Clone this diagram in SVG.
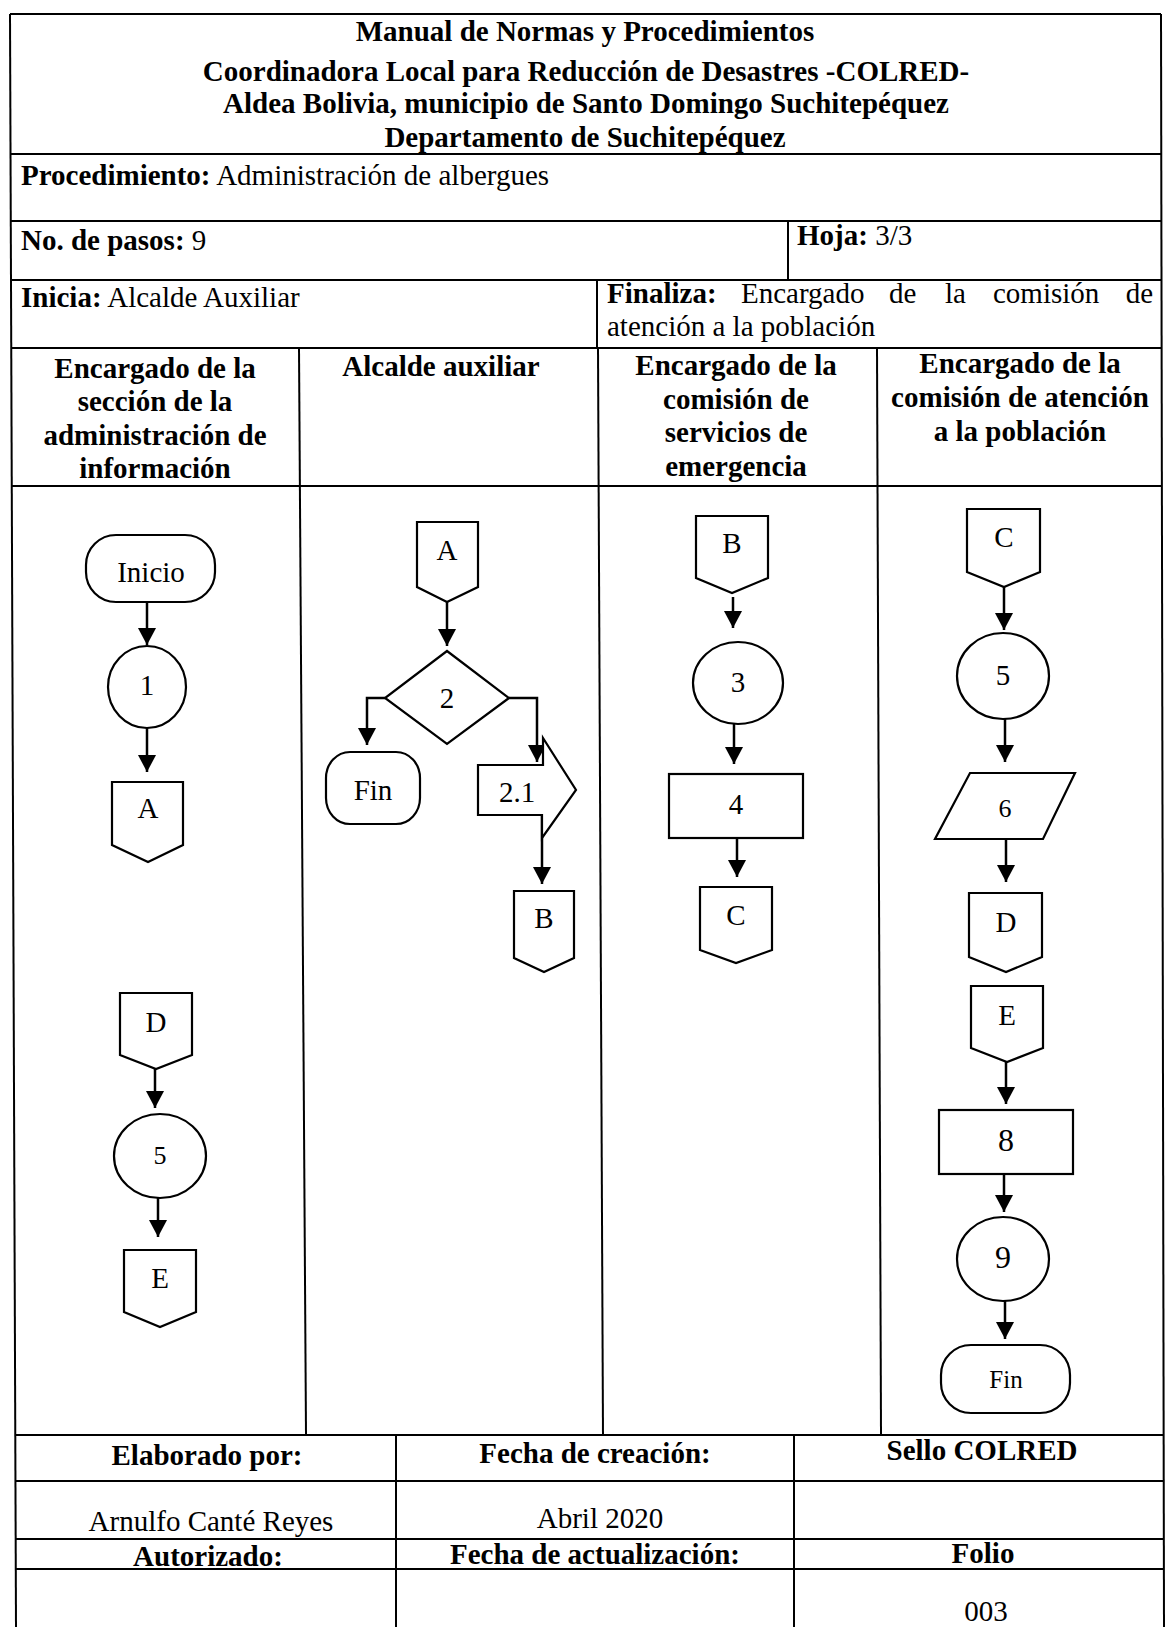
<svg xmlns="http://www.w3.org/2000/svg" width="1166" height="1627" viewBox="0 0 1166 1627">
<style>
text{font-family:"Liberation Serif","Times New Roman",serif;font-size:29px;fill:#000}
.b{font-weight:bold}
.c{text-anchor:middle}
.grid line{stroke:#000;stroke-width:2}
.shape{fill:#fff;stroke:#000;stroke-width:2.2}
.conn path{fill:none;stroke:#000;stroke-width:2.5;marker-end:url(#ah)}
</style>
<defs>
<marker id="ah" viewBox="0 0 10 10" refX="10" refY="5" markerWidth="17" markerHeight="18" markerUnits="userSpaceOnUse" orient="auto" preserveAspectRatio="none"><path d="M0,0 L10,5 L0,10 z" fill="#000"/></marker>
</defs>
<rect width="1166" height="1627" fill="#fff"/>
<g class="grid">
<line x1="10" y1="14" x2="16" y2="1627"/>
<line x1="1161" y1="14" x2="1164" y2="1627"/>
<line x1="10" y1="14" x2="1161" y2="14"/>
<line x1="10" y1="154" x2="1161" y2="154"/>
<line x1="10" y1="221" x2="1161" y2="221"/>
<line x1="11" y1="280" x2="1162" y2="280"/>
<line x1="11" y1="348" x2="1162" y2="348"/>
<line x1="11" y1="486" x2="1162" y2="486"/>
<line x1="15" y1="1435" x2="1163" y2="1435"/>
<line x1="15" y1="1481" x2="1163" y2="1481"/>
<line x1="16" y1="1539" x2="1164" y2="1539"/>
<line x1="16" y1="1569" x2="1164" y2="1569"/>
<line x1="788" y1="221" x2="788" y2="280"/>
<line x1="597" y1="280" x2="597" y2="348"/>
<line x1="299" y1="348" x2="306" y2="1435"/>
<line x1="598" y1="348" x2="603" y2="1435"/>
<line x1="877" y1="348" x2="881" y2="1435"/>
<line x1="396" y1="1435" x2="396" y2="1627"/>
<line x1="794" y1="1435" x2="794" y2="1627"/>
</g>
<g id="header">
<text class="b c" x="585" y="41">Manual de Normas y Procedimientos</text>
<text class="b c" x="586" y="81">Coordinadora Local para Reducción de Desastres -COLRED-</text>
<text class="b c" x="586" y="113">Aldea Bolivia, municipio de Santo Domingo Suchitepéquez</text>
<text class="b c" x="585" y="147">Departamento de Suchitepéquez</text>
<text x="21" y="185"><tspan class="b">Procedimiento:</tspan> Administración de albergues</text>
<text x="21" y="250"><tspan class="b">No. de pasos:</tspan> 9</text>
<text x="797" y="245"><tspan class="b">Hoja:</tspan> 3/3</text>
<text x="21" y="307"><tspan class="b">Inicia:</tspan> Alcalde Auxiliar</text>
<text class="b" x="607" y="303">Finaliza:</text>
<text x="741" y="303">Encargado</text>
<text x="889" y="303">de</text>
<text x="945" y="303">la</text>
<text x="993" y="303">comisión</text>
<text x="1153" y="303" style="text-anchor:end">de</text>
<text x="607" y="336">atención a la población</text>
</g>
<g id="lanes">
<text class="b c" x="155" y="378">Encargado de la</text>
<text class="b c" x="155" y="411">sección de la</text>
<text class="b c" x="155" y="445">administración de</text>
<text class="b c" x="155" y="478">información</text>
<text class="b c" x="441" y="376">Alcalde auxiliar</text>
<text class="b c" x="736" y="375">Encargado de la</text>
<text class="b c" x="736" y="409">comisión de</text>
<text class="b c" x="736" y="442">servicios de</text>
<text class="b c" x="736" y="476">emergencia</text>
<text class="b c" x="1020" y="373">Encargado de la</text>
<text class="b c" x="1020" y="407">comisión de atención</text>
<text class="b c" x="1020" y="441">a la población</text>
</g>
<g class="conn">
<path d="M147,603 V645"/>
<path d="M147,728 V772"/>
<path d="M447,602 V646"/>
<path d="M385,698 H367 V745"/>
<path d="M509,698 H537 V762"/>
<path d="M542,816 V884"/>
<path d="M733,597 V628"/>
<path d="M734,724 V764"/>
<path d="M737,838 V877"/>
<path d="M1004,587 V630"/>
<path d="M1005,719 V762"/>
<path d="M1006,839 V882"/>
<path d="M1006,1062 V1104"/>
<path d="M1004,1174 V1212"/>
<path d="M1005,1301 V1339"/>
<path d="M155,1069 V1108"/>
<path d="M158,1198 V1237"/>
</g>
<g id="n-inicio"><rect class="shape" x="86" y="535" width="129" height="67" rx="30" ry="30"/><text class="c" x="151" y="582">Inicio</text></g>
<g id="n-1"><ellipse class="shape" cx="147" cy="687" rx="39" ry="41"/><text class="c" x="147" y="695">1</text></g>
<g id="n-A1"><path class="shape" d="M112,782 H183 V845 L148,862 L112,845 Z"/><text class="c" x="148" y="818">A</text></g>
<g id="n-D1"><path class="shape" d="M120,993 H192 V1055 L156,1069 L120,1055 Z"/><text class="c" x="156" y="1032">D</text></g>
<g id="n-5a"><ellipse class="shape" cx="160" cy="1156" rx="46" ry="42"/><text class="c" x="160" y="1164" style="font-size:26px">5</text></g>
<g id="n-E1"><path class="shape" d="M124,1250 H196 V1312 L160,1327 L124,1312 Z"/><text class="c" x="160" y="1288">E</text></g>
<g id="n-A2"><path class="shape" d="M417,522 H478 V587 L447,602 L417,587 Z"/><text class="c" x="447" y="560">A</text></g>
<g id="n-2"><path class="shape" d="M447,651 L509,698 L447,744 L385,698 Z"/><text class="c" x="447" y="708">2</text></g>
<g id="n-fin1"><rect class="shape" x="326" y="752" width="94" height="72" rx="24" ry="26"/><text class="c" x="373" y="800">Fin</text></g>
<g id="n-21"><path class="shape" d="M478,765 H543 V738 L576,790 L542,838 V815 H478 Z"/><text class="c" x="517" y="802">2.1</text></g>
<g id="n-B2"><path class="shape" d="M514,891 H574 V958 L544,972 L514,958 Z"/><text class="c" x="544" y="928">B</text></g>
<g id="n-B3"><path class="shape" d="M696,516 H768 V578 L732,593 L696,578 Z"/><text class="c" x="732" y="553">B</text></g>
<g id="n-3"><ellipse class="shape" cx="738" cy="683" rx="45" ry="41"/><text class="c" x="738" y="692">3</text></g>
<g id="n-4"><rect class="shape" x="669" y="774" width="134" height="64"/><text class="c" x="736" y="814">4</text></g>
<g id="n-C3"><path class="shape" d="M700,887 H772 V950 L736,963 L700,950 Z"/><text class="c" x="736" y="925">C</text></g>
<g id="n-C4"><path class="shape" d="M967,509 H1040 V572 L1004,587 L967,572 Z"/><text class="c" x="1004" y="547">C</text></g>
<g id="n-5b"><ellipse class="shape" cx="1003" cy="676" rx="46" ry="43"/><text class="c" x="1003" y="685">5</text></g>
<g id="n-6"><path class="shape" d="M970,773 L1075,773 L1043,839 L935,839 Z"/><text class="c" x="1005" y="817" style="font-size:26px">6</text></g>
<g id="n-D4"><path class="shape" d="M969,893 H1042 V957 L1006,972 L969,957 Z"/><text class="c" x="1006" y="932">D</text></g>
<g id="n-E4"><path class="shape" d="M971,986 H1043 V1048 L1007,1062 L971,1048 Z"/><text class="c" x="1007" y="1025">E</text></g>
<g id="n-8"><rect class="shape" x="939" y="1110" width="134" height="64"/><text class="c" x="1006" y="1151" style="font-size:32px">8</text></g>
<g id="n-9"><ellipse class="shape" cx="1003" cy="1259" rx="46" ry="42"/><text class="c" x="1003" y="1268" style="font-size:32px">9</text></g>
<g id="n-fin2"><rect class="shape" x="941" y="1345" width="129" height="68" rx="30" ry="30"/><text class="c" x="1006" y="1388" style="font-size:25px">Fin</text></g>
<g id="footer">
<text class="b c" x="207" y="1465">Elaborado por:</text>
<text class="b c" x="595" y="1463">Fecha de creación:</text>
<text class="b c" x="982" y="1460">Sello COLRED</text>
<text class="c" x="211" y="1531">Arnulfo Canté Reyes</text>
<text class="c" x="600" y="1528">Abril 2020</text>
<text class="b c" x="208" y="1566">Autorizado:</text>
<text class="b c" x="595" y="1564">Fecha de actualización:</text>
<text class="b c" x="983" y="1563">Folio</text>
<text class="c" x="986" y="1621">003</text>
</g>
</svg>
